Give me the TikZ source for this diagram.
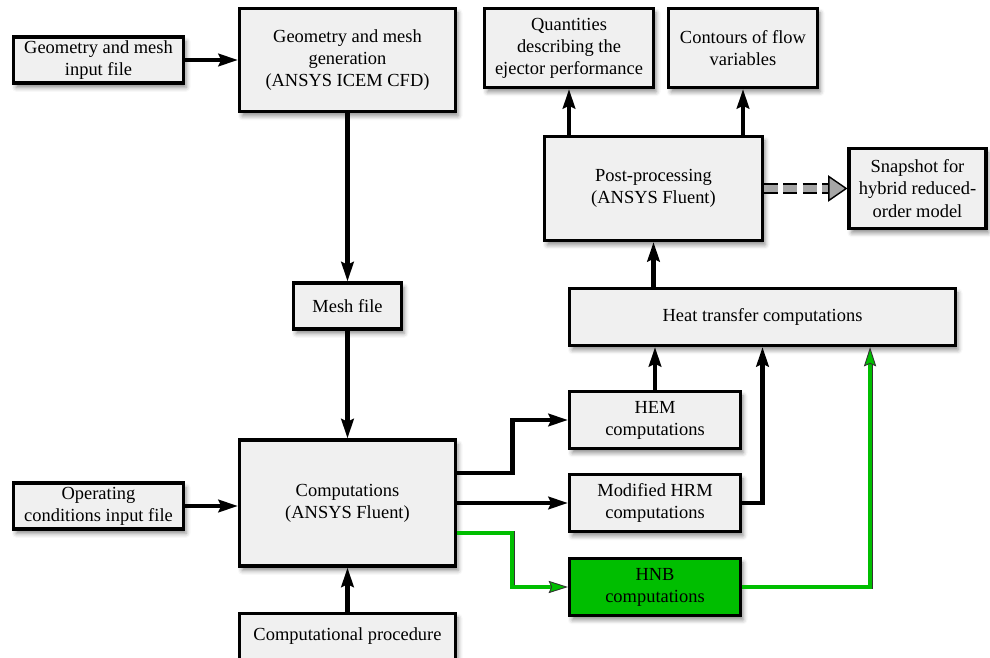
\documentclass[tikz,border=0pt]{standalone}
\usepackage{fontspec}
\setmainfont{Liberation Serif}
\usetikzlibrary{arrows.meta,shadows.blur}
\definecolor{boxgray}{HTML}{F0F0F0}
\definecolor{hnbgreen}{HTML}{00BE00}
\definecolor{snapgray}{HTML}{A6A6A6}

\begin{document}
\begin{tikzpicture}[x=0.02cm,y=-0.02cm,
    box/.style={draw=black,fill=boxgray,line width=1.8pt,align=center,
      inner sep=2pt,font=\fontsize{10.5}{12.6}\selectfont,
      blur shadow={shadow xshift=1.5pt,shadow yshift=-2.5pt,
        shadow blur radius=2.5pt,shadow opacity=45}},
    flow/.style={line width=2.8pt,-{Stealth[length=11pt,width=7pt,inset=1.5pt]}},
    hnbflow/.style={draw=black!80,line width=0.5pt,double=hnbgreen,
      double distance=1.8pt,-{Stealth[length=11pt,width=7pt,inset=1.5pt,fill=hnbgreen]}},
    snapflow/.style={draw=black,line width=0.8pt,dash pattern=on 8pt off 3pt,
      double=snapgray,double distance=4.5pt,-{Triangle[length=11pt,width=15pt,fill=snapgray]}}]
  \useasboundingbox (0,0) rectangle (990,658);
  % Boxes are placed at their centres, measured in pixels of the figure.
  \node[box,minimum width=3.4cm,minimum height=0.92cm] (geoin) at (98.5,60)
    {Geometry and mesh\\input file};
  \node[box,minimum width=4.32cm,minimum height=2.06cm] (geomesh) at (347.5,60)
    {Geometry and mesh\\generation\\(ANSYS ICEM CFD)};
  \node[box,minimum width=2.16cm,minimum height=0.92cm] (meshfile) at (347.5,306)
    {Mesh file};
  \node[box,minimum width=3.4cm,minimum height=0.92cm] (opin) at (98.5,506)
    {Operating\\conditions input file};
  \node[box,minimum width=4.32cm,minimum height=2.52cm] (comp) at (347.5,503)
    {Computations\\(ANSYS Fluent)};
  \node[box,minimum width=4.32cm,minimum height=0.92cm] (proc) at (347.5,636.5)
    {Computational procedure};
  \node[box,minimum width=3.38cm,minimum height=1.58cm] (quant) at (569,48)
    {Quantities\\describing the\\ejector performance};
  \node[box,minimum width=2.98cm,minimum height=1.58cm] (contours) at (743,48)
    {Contours of flow\\variables};
  \node[box,minimum width=4.36cm,minimum height=2.08cm] (post) at (653.5,188.5)
    {Post-processing\\(ANSYS Fluent)};
  \node[box,minimum width=2.74cm,minimum height=1.6cm] (snap) at (917.5,188.5)
    {Snapshot for\\hybrid reduced-\\order model};
  \node[box,minimum width=7.72cm,minimum height=1.14cm] (heat) at (762.5,317)
    {Heat transfer computations};
  \node[box,minimum width=3.42cm,minimum height=1.14cm] (hem) at (655,420)
    {HEM\\computations};
  \node[box,minimum width=3.42cm,minimum height=1.14cm] (hrm) at (655,503)
    {Modified HRM\\computations};
  \node[box,fill=hnbgreen,minimum width=3.42cm,minimum height=1.14cm] (hnb) at (655,587)
    {HNB\\computations};
  \draw[flow] (geoin.east) -- (geomesh.west);
  \draw[flow] (geomesh.south) -- (meshfile.north);
  \draw[flow] (meshfile.south) -- (comp.north);
  \draw[flow] (opin.east) -- (opin.east -| comp.west);
  \draw[flow] (proc.north) -- (comp.south);
  \draw[flow] ([yshift=0.6cm]comp.east) -- ++(1.1cm,0) |- (hem.west);
  \draw[flow] (comp.east) -- (hrm.west);
  \draw[hnbflow] ([yshift=-0.6cm]comp.east) -- ++(1.1cm,0) |- (hnb.west);
  \draw[flow] (hem.north) -- (hem.north |- heat.south);
  \draw[flow] (hrm.east) -| (heat.south);
  \draw[hnbflow] (hnb.east) -| ([xshift=-1.74cm]heat.south east);
  \draw[flow] (post.south |- heat.north) -- (post.south);
  \draw[flow] (quant.south |- post.north) -- (quant.south);
  \draw[flow] (contours.south |- post.north) -- (contours.south);
  \draw[snapflow] (post.east) -- (snap.west);
\end{tikzpicture}
\end{document}
